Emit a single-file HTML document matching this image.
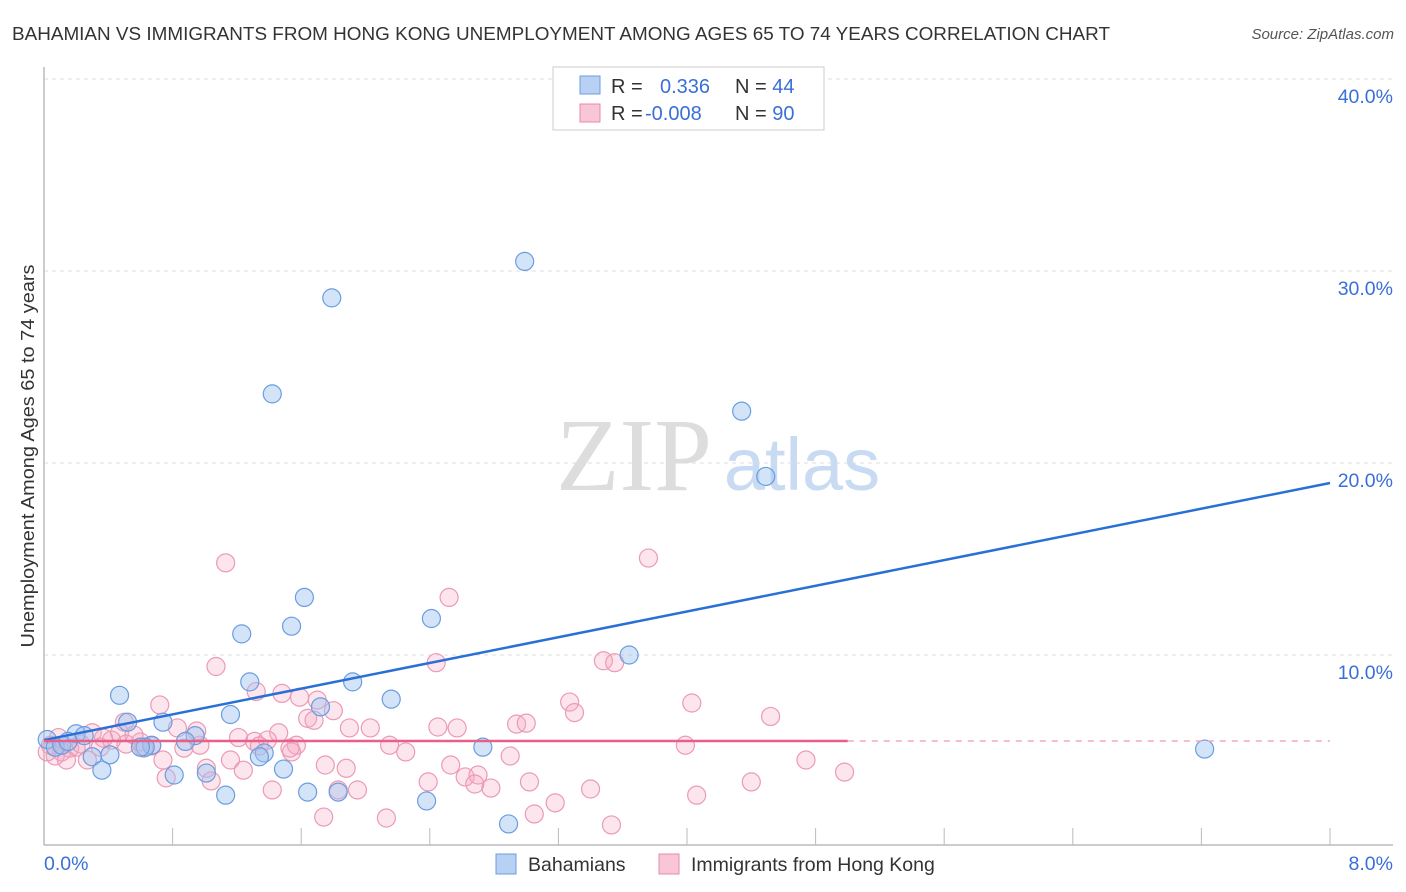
<!DOCTYPE html>
<html><head><meta charset="utf-8"><style>
body{margin:0;background:#fff;font-family:"Liberation Sans",sans-serif;}
#wrap{position:relative;width:1406px;height:892px;overflow:hidden;}
</style></head><body>
<div id="wrap">
<svg id="svg" width="1406" height="892" xmlns="http://www.w3.org/2000/svg">
<text x="12" y="40" font-size="18" fill="#333" textLength="1098" lengthAdjust="spacingAndGlyphs">BAHAMIAN VS IMMIGRANTS FROM HONG KONG UNEMPLOYMENT AMONG AGES 65 TO 74 YEARS CORRELATION CHART</text>
<text x="1394" y="39" font-size="15" fill="#555" font-style="italic" text-anchor="end">Source: ZipAtlas.com</text>
<text x="634" y="490" font-size="104" fill="#ddd" font-family="Liberation Serif,serif" text-anchor="middle">ZIP</text>
<text x="802" y="490" font-size="74" fill="#c8dbf3" text-anchor="middle">atlas</text>
<text transform="translate(34,456) rotate(-90)" font-size="18" fill="#333" text-anchor="middle" textLength="383" lengthAdjust="spacingAndGlyphs">Unemployment Among Ages 65 to 74 years</text>
<g id="grid"></g><g id="marks"></g><g id="lines"></g>
<g>
<rect x="553" y="67" width="271" height="63" fill="#fff" stroke="#ccc"/>
<rect x="580" y="76" width="20" height="18" fill="#b8d0f3" stroke="#6a9de0"/>
<rect x="580" y="104" width="20" height="18" fill="#f9c6d6" stroke="#e88aaa"/>
<text x="611" y="93" font-size="20" fill="#333">R = <tspan fill="#3a6fd8" x="660">0.336</tspan><tspan x="735">N = </tspan><tspan fill="#3a6fd8">44</tspan></text>
<text x="611" y="120" font-size="20" fill="#333">R = <tspan fill="#3a6fd8" x="645">-0.008</tspan><tspan x="735">N = </tspan><tspan fill="#3a6fd8">90</tspan></text>
</g>
<g>
<rect x="496" y="854" width="20" height="20" fill="#b8d0f3" stroke="#6a9de0"/>
<text x="528" y="871" font-size="19.5" fill="#333">Bahamians</text>
<rect x="659" y="854" width="20" height="20" fill="#f9c6d6" stroke="#e88aaa"/>
<text x="691" y="871" font-size="19.5" fill="#333">Immigrants from Hong Kong</text>
</g>
</svg>
</div>
<script>
const xTicks=[0,8];
const yTicks=[10,20,30,40];
const blueX=[2.99,1.79,1.42,4.34,4.49,1.62,1.54,1.23,2.41,3.64,1.28,1.92,0.47,2.16,1.16,1.72,0.52,0.74,0.20,0.94,0.88,0.41,0.67,0.63,1.37,1.34,2.73,0.30,0.81,1.01,0.36,1.49,1.13,1.64,1.83,2.38,2.89,7.22,0.02,0.07,0.11,0.25,0.15,0.60];
const blueY=[30.5,28.6,23.6,22.7,19.3,13.0,11.5,11.1,11.9,10.0,8.6,8.6,7.9,7.7,6.9,7.3,6.5,6.5,5.9,5.8,5.5,4.8,5.3,5.2,4.9,4.7,5.2,4.7,3.75,3.85,4.0,4.06,2.7,2.86,2.86,2.4,1.2,5.1,5.6,5.2,5.3,5.8,5.5,5.2];
const pinkX=[1.13,3.76,2.52,1.07,2.44,3.48,3.55,1.32,1.48,1.59,1.70,1.80,0.72,3.27,3.30,4.03,4.52,1.64,1.68,0.50,0.83,1.90,2.03,2.45,2.57,2.94,3.00,1.21,1.46,0.30,0.47,0.09,1.31,1.39,1.57,2.15,2.25,3.99,2.90,4.74,0.35,0.67,0.87,0.97,1.16,1.54,0.74,0.51,0.27,1.01,1.75,1.88,2.53,1.24,0.76,1.04,2.39,2.62,2.70,2.68,3.02,2.78,4.40,4.98,1.42,1.83,1.95,3.40,4.06,3.18,3.05,1.74,2.13,3.53,0.11,0.16,0.20,0.04,0.07,0.42,0.60,0.56,0.95,0.62,1.34,1.53,0.02,0.23,0.14,0.37];
const pinkY=[14.8,15.05,13.0,9.4,9.6,9.7,9.6,8.1,8.0,7.8,7.65,7.1,7.4,7.55,7.0,7.5,6.8,6.7,6.6,6.5,6.2,6.2,6.2,6.25,6.2,6.4,6.45,5.7,5.95,5.95,5.95,5.7,5.5,5.57,5.3,5.3,4.95,5.3,4.74,4.53,5.2,5.26,5.15,5.3,4.53,4.95,4.53,5.36,4.53,4.1,4.27,4.1,4.27,4.0,3.6,3.44,3.39,3.65,3.75,3.28,3.39,3.07,3.39,3.9,2.97,2.97,2.97,3.02,2.7,2.3,1.72,1.56,1.51,1.15,4.95,5.15,5.2,5.3,4.74,5.57,5.47,5.83,6.04,5.15,5.26,5.15,4.95,5.36,4.53,5.67];
const blueTrend=[5.57,18.96];
const pinkTrend=[5.52,5.52];
const pinkSolidEnd=[5.0];

const X=v=>44+v/8*1286;
const Y=v=>847-v*19.2;
const NS='http://www.w3.org/2000/svg';
function mk(tag,attrs,parent){const e=document.createElementNS(NS,tag);for(const k in attrs)e.setAttribute(k,attrs[k]);parent.appendChild(e);return e;}
const grid=document.getElementById('grid'),marks=document.getElementById('marks'),lines=document.getElementById('lines');
yTicks.forEach(t=>{
  const l=mk('line',{x1:44,x2:1393,y1:Y(t),y2:Y(t),stroke:'#ddd','stroke-dasharray':'4,4'},grid);
  
  
  const tx=mk('text',{x:1393,y:Y(t)+24,'font-size':19.5,fill:'#3a6fd8','text-anchor':'end'},grid);
  tx.textContent=t.toFixed(1)+'%';
  
  
});
const ax=mk('line',{x1:44,x2:1393,y1:845,y2:845,stroke:'#bbb','stroke-width':1.5},grid);


const ay=mk('line',{x1:44,x2:44,y1:67,y2:845,stroke:'#bbb','stroke-width':1.5},grid);


for(let i=1;i<=10;i++){
  const v=i*0.8;
  const tk=mk('line',{x1:X(v),x2:X(v),y1:828,y2:845,stroke:'#bbb'},grid);
  
  
}
xTicks.forEach((t,i)=>{
  const tx=mk('text',{x:i==0?44:1393,y:870,'font-size':19.5,fill:'#3a6fd8','text-anchor':i==0?'start':'end'},grid);
  tx.textContent=t.toFixed(1)+'%';
  
  
});
pinkX.forEach((v,i)=>{
  const c=mk('circle',{cx:X(v),cy:Y(pinkY[i]),r:9,fill:'rgba(246,170,196,0.3)',stroke:'#eb9ab6','stroke-width':1.2},marks);
  
  
});
blueX.forEach((v,i)=>{
  const c=mk('circle',{cx:X(v),cy:Y(blueY[i]),r:9,fill:'rgba(160,196,240,0.45)',stroke:'#6a9de0','stroke-width':1.2},marks);
  
  
});
const bl=mk('line',{x1:X(0),y1:Y(blueTrend[0]),x2:X(8),y2:Y(blueTrend[1]),stroke:'#2a6fd6','stroke-width':2.5},lines);


const pe=pinkSolidEnd[0];
const pyAt=v=>pinkTrend[0]+(pinkTrend[1]-pinkTrend[0])*v/8;
const pl=mk('line',{x1:X(0),y1:Y(pinkTrend[0]),x2:X(pe),y2:Y(pyAt(pe)),stroke:'#e8608a','stroke-width':2.5},lines);


const pd=mk('line',{x1:X(pe),y1:Y(pyAt(pe)),x2:X(8),y2:Y(pinkTrend[1]),stroke:'#f0a8bf','stroke-width':1.5,'stroke-dasharray':'6,6'},lines);


</script>
</body></html>
